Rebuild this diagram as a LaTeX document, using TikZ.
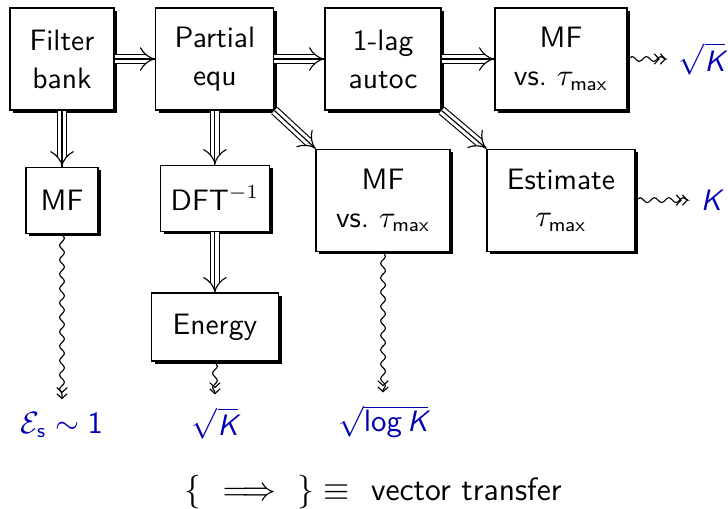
\documentclass[tikz,border=0pt]{standalone}
\usepackage{amsmath}
\usepackage{tikz}
\usetikzlibrary{arrows.meta, positioning, shadows, decorations.pathmorphing}

\newcommand{\sfK}{\textsf{\itshape K}}

\begin{document}
\begin{tikzpicture}[
  font=\sffamily\fontsize{10.5pt}{13.5pt}\selectfont,
  blk/.style={rectangle, draw, fill=white, align=center, inner sep=1pt,
    drop shadow={shadow xshift=0.4mm, shadow yshift=-0.4mm, opacity=1, fill=black}},
  big/.style={blk, minimum height=12.75mm},
  small/.style={blk, minimum height=8.25mm},
  outp/.style={text=blue!70!black, inner sep=1pt},
  vec/.style={preaction={draw, double, double distance=2.6pt, -{Implies}}, draw},
  wig/.style={decorate, decoration={snake, amplitude=0.3mm, segment length=1.8mm, post length=1.2mm},
    shorten >=1.2mm,
    -{Straight Barb[length=0.6mm, width=1.3mm] Straight Barb[length=0.6mm, width=1.3mm]}},
  node distance=6mm and 6mm
]
  \useasboundingbox (-7.75mm,7.375mm) rectangle (83.25mm,-56.25mm);

  % top row
  \node[big, minimum width=13mm] (fb) at (0,0) {Filter\\bank};
  \node[big, minimum width=14.75mm, right=5.1mm of fb] (pe) {Partial\\equ};
  \node[big, minimum width=14.5mm, right=6.25mm of pe] (ac) {1-lag\\autoc};
  \node[big, minimum width=16.5mm, right=6.6mm of ac] (mft) {MF\\vs.\ $\tau_{\mathsf{max}}$};

  % second row
  \node[small, minimum width=9mm, below=7mm of fb] (mfl) {MF};
  \node[small, minimum width=13.6mm, below=6.75mm of pe] (dft) {DFT$^{-1}$};
  \node[big, minimum width=16.75mm, below=4.75mm of ac] (mfm) {MF\\vs.\ $\tau_{\mathsf{max}}$};
  \node[big, minimum width=18.5mm, below=4.75mm of mft] (est) {Estimate\\$\tau_{\mathsf{max}}$};
  \node[blk, minimum height=8.5mm, minimum width=15.9mm, below=7.6mm of dft] (en) {Energy};

  \draw[vec] (fb) -- (pe);
  \draw[vec] (pe) -- (ac);
  \draw[vec] (ac) -- (mft);
  \draw[vec] (fb) -- (mfl);
  \draw[vec] (pe) -- (dft);
  \draw[vec] (dft) -- (en);
  \draw[vec] (pe.south east) -- (mfm.north west);
  \draw[vec] (ac.south east) -- (est.north west);

  % outputs
  \node[outp, below=21.9mm of mfl] (eps) {$\mathcal{E}_{\mathsf{s}}\sim\mathsf{1}$};
  \node[outp, below=5.3mm of en] (sqk) {$\sqrt{\sfK}$};
  \node[outp, below=18.8mm of mfm] (slk) {$\sqrt{\mathsf{log}\,\sfK}$};
  \node[outp, right=6mm of mft] (sqkt) {$\sqrt{\sfK}$};
  \node[outp, right=7.75mm of est] (kout) {\sfK};

  \draw[wig] (mfl) -- (eps);
  \draw[wig] (en) -- (sqk);
  \draw[wig] (mfm) -- (slk);
  \draw[wig] (mft) -- (sqkt);
  \draw[wig] (est) -- (kout);

  \node[font=\sffamily\fontsize{11.5pt}{14pt}\selectfont] (leg) at (38.9mm,-54.1mm)
    {$\{\ \ \Longrightarrow\ \ \}\equiv$\ \ vector transfer};
\end{tikzpicture}
\end{document}
